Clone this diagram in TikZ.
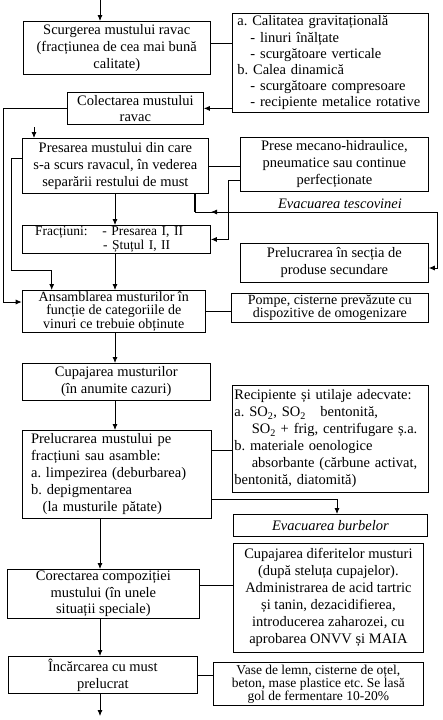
\documentclass[tikz,border=0pt]{standalone}
\usepackage{fontspec}
\setmainfont{Liberation Serif}
\usepackage{tikz}
\usetikzlibrary{arrows.meta,calc}
\frenchspacing
\newcommand{\txt}{\fontsize{14.5}{17}\selectfont}
\tikzset{
  box/.style={draw, line width=0.8pt, anchor=north west, inner sep=0pt, align=center, font=\txt},
  lbox/.style={box, align=left, inner xsep=5pt},
  ln/.style={line width=0.8pt},
  fl/.style={ln, -{Latex[length=6pt,width=5pt]}},
  lbl/.style={font=\txt\itshape},
}
\begin{document}
\begin{tikzpicture}[x=1pt,y=-1pt]
  \useasboundingbox (0,0) rectangle (443,720);
  % main column
  \node[box, minimum width=187.3pt, minimum height=53pt] (scurg) at (22.7,21)
    {Scurgerea mustului ravac\\(fracțiunea de cea mai bună\\calitate)};
  \node[box, minimum width=136pt, minimum height=32pt, font=\fontsize{14.5}{15.5}\selectfont] (colect) at (67,92)
    {Colectarea mustului\\ravac};
  \node[box, minimum width=186.6pt, minimum height=55pt] (pres) at (21.7,138)
    {Presarea mustului din care\\s-a scurs ravacul, în vederea\\separării restului de must};
  \node[lbox, text width=178.3pt, minimum height=28pt, font=\fontsize{13.5}{14.5}\selectfont] (fract) at (21.7,225)
    {\hspace*{8pt}Fracțiuni:\hspace{1.1em}- Presarea I, II\\\hspace*{76pt}- Ștuțul I, II};
  \node[box, minimum width=183.3pt, minimum height=42pt, font=\fontsize{14}{13.6}\selectfont] (ansam) at (21.7,290)
    {Ansamblarea musturilor în\\funcție de categoriile de\\vinuri ce trebuie obținute};
  \node[box, minimum width=188.3pt, minimum height=37pt] (cupaj) at (21.7,363)
    {Cupajarea musturilor\\(în anumite cazuri)};
  \node[lbox, inner xsep=9pt, text width=171pt, minimum height=88pt] (prelm) at (21.7,430)
    {Prelucrarea mustului pe\\fracțiuni sau asamble:\\a. limpezirea (deburbarea)\\b. depigmentarea\\\hspace*{0.8em}(la musturile pătate)};
  \node[box, minimum width=192pt, minimum height=49pt, font=\fontsize{14.5}{16.5}\selectfont] (corect) at (7,569)
    {Corectarea compoziției\\mustului (în unele\\situații speciale)};
  \node[box, minimum width=189pt, minimum height=37pt] (incarc) at (8,656)
    {Încărcarea cu must\\prelucrat};
  % side boxes
  \node[lbox, text width=186pt, minimum height=99pt, font=\fontsize{14.5}{16.2}\selectfont] (calit) at (232,13)
    {a. Calitatea gravitațională\\\hspace*{0.9em}- linuri înălțate\\\hspace*{0.9em}- scurgătoare verticale\\b. Calea dinamică\\\hspace*{0.9em}- scurgătoare compresoare\\\hspace*{0.9em}- recipiente metalice rotative};
  \node[box, minimum width=188pt, minimum height=54pt] (prese) at (240,137)
    {Prese mecano-hidraulice,\\pneumatice sau continue\\perfecționate};
  \node[box, minimum width=188pt, minimum height=39pt] (sect) at (240,243)
    {Prelucrarea în secția de\\produse secundare};
  \node[box, minimum width=197pt, minimum height=29pt, font=\fontsize{14}{13.5}\selectfont] (pompe) at (231,293)
    {Pompe, cisterne prevăzute cu\\dispozitive de omogenizare};
  \node[lbox, inner xsep=2pt, text width=192pt, minimum height=107pt] (recip) at (232,385)
    {Recipiente și utilaje adecvate:\\a. SO\textsubscript{2}, SO\textsubscript{2}\quad bentonită,\\\hspace*{1.2em}SO\textsubscript{2} + frig, centrifugare ș.a.\\b. materiale oenologice\\\hspace*{1.2em}absorbante (cărbune activat,\\bentonită, diatomită)};
  \node[box, minimum width=194pt, minimum height=22pt, font=\txt\itshape] (burb) at (233,514)
    {Evacuarea burbelor};
  \node[box, minimum width=190pt, minimum height=109pt] (cupdif) at (233,543)
    {Cupajarea diferitelor musturi\\(după steluța cupajelor).\\Administrarea de acid tartric\\și tanin, dezacidifierea,\\introducerea zaharozei, cu\\aprobarea ONVV și MAIA};
  \node[box, minimum width=210pt, minimum height=43pt, font=\fontsize{13.5}{13}\selectfont] (vase) at (213,662)
    {Vase de lemn, cisterne de oțel,\\beton, mase plastice etc. Se lasă\\gol de fermentare 10-20\%};
  \node[lbl] (tesc) at (340,204) {Evacuarea tescovinei};
  % connectors
  \coordinate (in) at (100,0);
  \draw[fl] (in) -- (in |- scurg.north);
  \coordinate (j1) at (0,43);
  \draw[ln] (scurg.east |- j1) -- (calit.west |- j1);
  \draw[fl] (calit.west |- colect.east) -- (colect.east);
  \coordinate (o1) at (3.3,302);
  \draw[fl] (colect.west) -| (o1) -- (o1 -| ansam.west);
  \coordinate (pin) at (34,127);
  \draw[fl] (pin) -- (pin |- pres.north);
  \draw[ln] (pres.east) -- (pres.east -| prese.west);
  \coordinate (k1) at (228,180);
  \draw[fl, line width=1pt] (prese.west |- k1) -- (k1) |- (fract.east);
  \coordinate (t1) at (195,212);
  \coordinate (t2) at (437,212);
  \coordinate (t3) at (437,268);
  \draw[fl] (pres.south -| t1) -- (t1) -- (t2) -- (t3) -- (t3 -| sect.east);
  \draw[line width=1.6pt] (pres.south -| t1) -- (t1);
  \coordinate (t4) at (211,212);
  \draw[fl] ([xshift=7pt]t4) -- (t4);
  \coordinate (l0) at (11.7,158);
  \coordinate (l1) at (51.7,270);
  \draw[fl] (pres.west |- l0) -- (l0) |- (l1) -- (l1 |- ansam.north);
  \coordinate (ax) at (115,0);
  \draw[fl] (pres.south -| ax) -- (fract.north -| ax);
  \draw[fl] (fract.south -| ax) -- (ansam.north -| ax);
  \draw[ln] (ansam.east) -- (ansam.east -| pompe.west);
  \draw[fl] (ansam.south -| ax) -- (cupaj.north -| ax);
  \draw[fl] (cupaj.south -| ax) -- (prelm.north -| ax);
  \coordinate (r1) at (0,450);
  \draw[ln] (prelm.east |- r1) -- (recip.west |- r1);
  \coordinate (b1) at (337,499);
  \draw[fl] (prelm.east |- b1) -- (b1) -- (b1 |- burb.north);
  \coordinate (ax2) at (100,0);
  \draw[fl] (prelm.south -| ax2) -- (corect.north -| ax2);
  \coordinate (c1) at (0,585);
  \draw[ln] (corect.east |- c1) -- (cupdif.west |- c1);
  \draw[fl] (corect.south -| ax2) -- (incarc.north -| ax2);
  \draw[ln] (incarc.east) -- (incarc.east -| vase.west);
  \coordinate (out) at (100,716);
  \draw[fl] (incarc.south -| ax2) -- (out);
\end{tikzpicture}
\end{document}
